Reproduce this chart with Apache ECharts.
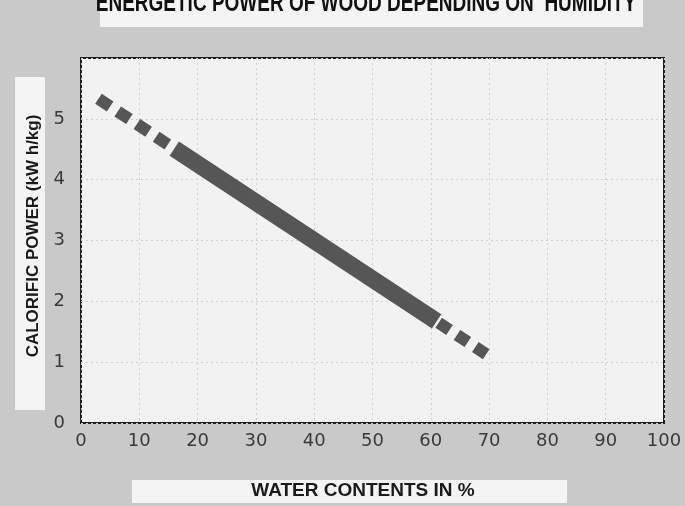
<!DOCTYPE html>
<html>
<head>
<meta charset="utf-8">
<script src="https://cdn.jsdelivr.net/npm/echarts@6/dist/echarts.min.js"></script>
<style>
html,body{margin:0;padding:0;background:#c9c9c9;}
#chart{width:685px;height:506px;}
</style>
</head>
<body>
<div id="chart"></div>
<script>
// Data
var titleText = 'ENERGETIC POWER OF WOOD DEPENDING ON  HUMIDITY';
var xAxisTitle = 'WATER CONTENTS IN %';
var yAxisTitle = 'CALORIFIC POWER (kW h/kg)';
var xTicks = [0, 10, 20, 30, 40, 50, 60, 70, 80, 90, 100];
var yTicks = [0, 1, 2, 3, 4, 5];
var dashedStart = [[3, 5.33], [16, 4.51]];
var solidMiddle = [[16, 4.51], [61, 1.67]];
var dashedEnd = [[69.5, 1.13], [61, 1.67]];

var chart = echarts.init(document.getElementById('chart'), null, {renderer: 'canvas'});
var lineColor = '#565656';
var option = {
  backgroundColor: '#c9c9c9',
  animation: false,
  grid: {
    left: 81, right: 21, top: 58, bottom: 83,
    show: true, backgroundColor: '#f2f2f2', borderColor: '#1e1e1e', borderWidth: 2
  },
  graphic: [
    {type: 'rect', left: 100, top: 0, shape: {width: 543, height: 27}, style: {fill: '#f4f4f4'}, z: 1},
    {type: 'text', x: 366, y: 26, scaleY: 1.35, originX: 366, originY: 26,
      style: {text: titleText, font: 'bold 19px "Liberation Sans", Arial, sans-serif', fill: '#111', textAlign: 'center', textVerticalAlign: 'bottom'}, z: 2},
    {type: 'rect', left: 132, top: 480, shape: {width: 435, height: 23}, style: {fill: '#f4f4f4'}, z: 1},
    {type: 'text', x: 363, y: 491, style: {text: xAxisTitle, font: 'bold 19px "Liberation Sans", Arial, sans-serif', fill: '#1a1a1a', textAlign: 'center', textVerticalAlign: 'middle'}, z: 2},
    {type: 'rect', left: 15, top: 77, shape: {width: 30, height: 333}, style: {fill: '#f4f4f4'}, z: 1},
    {type: 'text', x: 33, y: 236, rotation: Math.PI / 2, style: {text: yAxisTitle, font: 'bold 17px "Liberation Sans", Arial, sans-serif', fill: '#1a1a1a', textAlign: 'center', textVerticalAlign: 'middle'}, z: 2}
  ],
  xAxis: {
    type: 'value', min: xTicks[0], max: xTicks[xTicks.length - 1], interval: 10,
    axisLine: {show: false}, axisTick: {show: false},
    axisLabel: {color: '#3a3a3a', fontSize: 18, fontFamily: '"DejaVu Sans", sans-serif', margin: 9},
    splitLine: {show: true, lineStyle: {color: '#cfcfcf', type: [2, 3], width: 1}}
  },
  yAxis: {
    type: 'value', min: 0, max: 6, interval: 1,
    axisLine: {show: false}, axisTick: {show: false},
    axisLabel: {color: '#3a3a3a', fontSize: 18, fontFamily: '"DejaVu Sans", sans-serif', margin: 16,
      formatter: function (v) { return yTicks.indexOf(v) >= 0 ? String(v) : ''; }},
    splitLine: {show: true, lineStyle: {color: '#cfcfcf', type: [2, 3], width: 1}}
  },
  series: [
    {type: 'line', data: dashedStart, symbol: 'none', lineStyle: {color: lineColor, width: 12, type: [14, 9], cap: 'butt'}},
    {type: 'line', data: solidMiddle, symbol: 'none', lineStyle: {color: lineColor, width: 17, type: 'solid', cap: 'butt'}},
    {type: 'line', data: dashedEnd, symbol: 'none', lineStyle: {color: lineColor, width: 12, type: [13, 9], cap: 'butt'}}
  ]
};
chart.setOption(option);
</script>
</body>
</html>
